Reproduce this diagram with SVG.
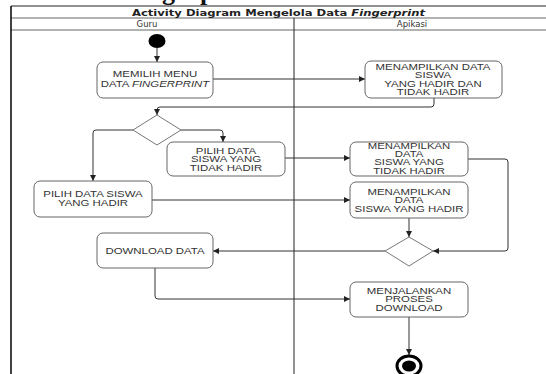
<svg xmlns="http://www.w3.org/2000/svg" width="546" height="374" viewBox="0 0 546 374">
  <defs>
    <marker id="arr" viewBox="0 0 10 10" refX="10" refY="5" markerWidth="6" markerHeight="6" markerUnits="userSpaceOnUse" orient="auto">
      <path d="M0,0 L10,5 L0,10 Z" fill="#222"/>
    </marker>
    <style>
      .frame { stroke: #222; stroke-width: 1; fill: none; }
      .rule { stroke: #999; stroke-width: 1.5; fill: none; }
      .act { fill: #fff; stroke: #666; stroke-width: 1; }
      .dec { fill: #fff; stroke: #777; stroke-width: 1; }
      .lbl { font-family: "Liberation Sans", Arial, sans-serif; font-size: 9px; fill: #333; text-anchor: middle; }
      .tight { font-size: 8.2px; }
      .hdr { font-family: "DejaVu Sans", sans-serif; font-size: 8.5px; fill: #333; text-anchor: middle; }
      .ttl { font-family: "DejaVu Sans", sans-serif; font-size: 9.5px; font-weight: bold; fill: #222; }
      .flow { stroke: #333; stroke-width: 1; fill: none; marker-end: url(#arr); }
    </style>
  </defs>
  <rect width="546" height="374" fill="#fff"/>

  <!-- descenders of the page heading above the frame -->
  <text x="162 200" y="0" font-family="'Liberation Serif', serif" font-weight="bold" font-size="26" fill="#111">gp</text>

  <!-- swimlane frame -->
  <g id="frame">
    <line class="frame" x1="11" y1="6" x2="546" y2="6"/>
    <line class="rule" x1="11" y1="18" x2="546" y2="18"/>
    <line class="rule" x1="11" y1="30" x2="546" y2="30"/>
    <line x1="11" y1="6" x2="11" y2="374" stroke="#111" stroke-width="1.6"/>
    <line class="frame" x1="294" y1="18" x2="294" y2="374"/>
    <text class="ttl" x="132" y="16" textLength="293" lengthAdjust="spacingAndGlyphs">Activity Diagram Mengelola Data <tspan font-style="italic">Fingerprint</tspan></text>
    <text class="hdr" x="147" y="27">Guru</text>
    <text class="hdr" x="412" y="27">Apikasi</text>
  </g>

  <!-- connectors -->
  <g id="connectors">
    <path class="flow" d="M157,48 V62"/>
    <path class="flow" d="M213,79 H365"/>
    <path class="flow" d="M434,98 V104 Q434,107 431,107 H160 Q157,107 157,110 V115"/>
    <path class="flow" d="M181,130 H220 Q223,130 223,133 V142"/>
    <path class="flow" d="M133,130 H96 Q93,130 93,133 V181"/>
    <path class="flow" d="M285,158 H350"/>
    <path class="flow" d="M152,200 H350"/>
    <path class="flow" d="M409,218 V237"/>
    <path class="flow" d="M468,159 H505 Q508,159 508,162 V248 Q508,251 505,251 H433"/>
    <path class="flow" d="M385,251 H213"/>
    <path class="flow" d="M155,268 V296 Q155,299 158,299 H350"/>
    <path class="flow" d="M409,317 V355"/>
  </g>

  <g id="start">
    <ellipse cx="157" cy="41" rx="8.5" ry="7" fill="#000"/>
  </g>

  <g id="memilih-menu">
    <rect class="act" x="97" y="62" width="116" height="36" rx="6"/>
    <g transform="translate(155 0) scale(1.27 1)">
      <text class="lbl" x="0" y="77">MEMILIH MENU</text>
      <text class="lbl" x="0" y="87">DATA <tspan font-style="italic">FINGERPRINT</tspan></text>
    </g>
  </g>

  <g id="tampil-hadir-tidak">
    <rect class="act" x="365" y="61" width="137" height="37" rx="6"/>
    <g transform="translate(433 0) scale(1.27 1)">
      <text class="lbl" x="0" y="70">MENAMPILKAN DATA</text>
      <text class="lbl" x="0" y="78.5">SISWA</text>
      <text class="lbl" x="0" y="87">YANG HADIR DAN</text>
      <text class="lbl" x="0" y="95.5">TIDAK HADIR</text>
    </g>
  </g>

  <g id="decision-pilih">
    <polygon class="dec" points="157,115 181,130 157,145 133,130"/>
  </g>

  <g id="pilih-tidak-hadir">
    <rect class="act" x="167" y="142" width="118" height="34" rx="6"/>
    <g transform="translate(226 0) scale(1.27 1)">
      <text class="lbl" x="0" y="154">PILIH DATA</text>
      <text class="lbl" x="0" y="162.5">SISWA YANG</text>
      <text class="lbl" x="0" y="171">TIDAK HADIR</text>
    </g>
  </g>

  <g id="pilih-hadir">
    <rect class="act" x="34" y="181" width="118" height="36" rx="6"/>
    <g transform="translate(93 0) scale(1.27 1)">
      <text class="lbl" x="0" y="197">PILIH DATA SISWA</text>
      <text class="lbl" x="0" y="206">YANG HADIR</text>
    </g>
  </g>

  <g id="tampil-tidak-hadir">
    <rect class="act" x="350" y="142" width="118" height="34" rx="6"/>
    <g transform="translate(409 0) scale(1.38 1)">
      <text class="lbl tight" x="0" y="149">MENAMPILKAN</text>
      <text class="lbl tight" x="0" y="157.2">DATA</text>
      <text class="lbl tight" x="0" y="165.4">SISWA YANG</text>
      <text class="lbl tight" x="0" y="173.6">TIDAK HADIR</text>
    </g>
  </g>

  <g id="tampil-hadir">
    <rect class="act" x="350" y="182" width="118" height="36" rx="6"/>
    <g transform="translate(409 0) scale(1.27 1)">
      <text class="lbl" x="0" y="195">MENAMPILKAN</text>
      <text class="lbl" x="0" y="203.5">DATA</text>
      <text class="lbl" x="0" y="212">SISWA YANG HADIR</text>
    </g>
  </g>

  <g id="decision-gabung">
    <polygon class="dec" points="409,237 433,251 409,266 385,251"/>
  </g>

  <g id="download-data">
    <rect class="act" x="97" y="233" width="116" height="35" rx="6"/>
    <g transform="translate(155 0) scale(1.27 1)">
      <text class="lbl" x="0" y="254">DOWNLOAD DATA</text>
    </g>
  </g>

  <g id="proses-download">
    <rect class="act" x="350" y="282" width="118" height="35" rx="6"/>
    <g transform="translate(409 0) scale(1.27 1)">
      <text class="lbl" x="0" y="294">MENJALANKAN</text>
      <text class="lbl" x="0" y="302.5">PROSES</text>
      <text class="lbl" x="0" y="311">DOWNLOAD</text>
    </g>
  </g>

  <g id="end">
    <ellipse cx="409" cy="366" rx="12" ry="10" fill="#fff" stroke="#000" stroke-width="3"/>
    <ellipse cx="409" cy="366" rx="7" ry="5.5" fill="#000"/>
  </g>
</svg>
